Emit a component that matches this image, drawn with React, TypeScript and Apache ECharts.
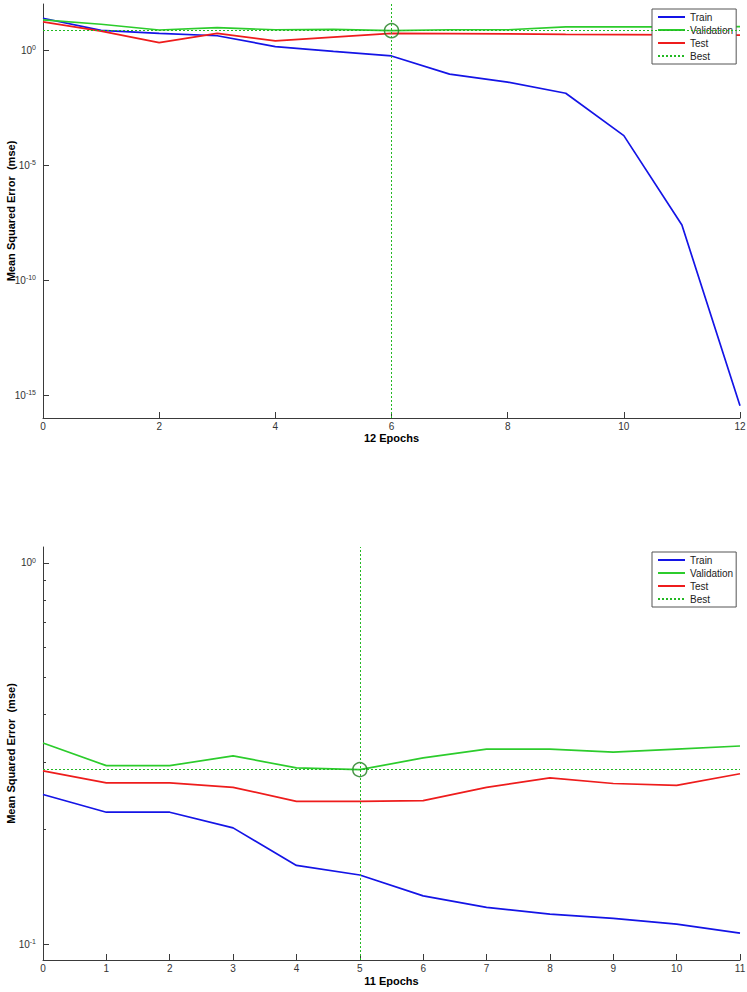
import { useEffect, useRef } from 'react';
import * as echarts from 'echarts';

// ---------- Top chart (12 epochs) ----------
const topEpochs = [0, 1, 2, 3, 4, 5, 6, 7, 8, 9, 10, 11, 12];
const topTrain = [24.0, 7.08, 5.25, 4.17, 1.41, 0.87, 0.55, 0.089, 0.04, 0.0132, 1.9e-4, 2.45e-8, 3.4e-16];
const topValidation = [20.4, 13.2, 7.41, 9.33, 7.59, 7.94, 6.92, 7.59, 7.59, 10.2, 10.2, 10.2, 10.3];
const topTest = [16.6, 6.6, 2.09, 5.25, 2.51, 3.63, 5.25, 5.13, 5.01, 4.79, 4.68, 4.57, 4.47];
const topBestEpoch = 6;
const topYRange = [1e-16, 1e2];
const topYLabelValues = [1e-15, 1e-10, 1e-5, 1];
const topXStep = 2;
const topXName = '12 Epochs';

// ---------- Bottom chart (11 epochs) ----------
const bottomEpochs = [0, 1, 2, 3, 4, 5, 6, 7, 8, 9, 10, 11];
const bottomTrain = [0.247, 0.222, 0.222, 0.202, 0.161, 0.152, 0.134, 0.125, 0.12, 0.117, 0.113, 0.107];
const bottomValidation = [0.337, 0.294, 0.294, 0.312, 0.29, 0.287, 0.308, 0.325, 0.325, 0.319, 0.325, 0.331];
const bottomTest = [0.285, 0.265, 0.265, 0.258, 0.237, 0.237, 0.238, 0.258, 0.273, 0.264, 0.261, 0.28];
const bottomBestEpoch = 5;
const bottomYRange = [0.091, 1.1];
const bottomYLabelValues = [0.1, 1];
const bottomYMinorValues = [0.2, 0.3, 0.4, 0.5, 0.6, 0.7, 0.8, 0.9];
const bottomXStep = 1;
const bottomXName = '11 Epochs';

const yName = 'Mean Squared Error  (mse)';
const legendNames = ['Train', 'Validation', 'Test', 'Best'];

const FONT = '"Liberation Sans", Arial, Helvetica, sans-serif';
const C_TRAIN = '#1414e6';
const C_VAL = '#2ccc2c';
const C_TEST = '#ee1c1c';
const C_BEST = '#22b822';
const C_CIRCLE = '#1d7d1d';
const AXIS = '#3a3a3a';

const lg = (v: number) => Math.log10(v);

function pairs(epochs: number[], vals: number[]) {
  return vals.map((v, i) => [epochs[i], lg(v)]);
}

function expLabel(v: number) {
  const e = Math.round(v);
  return `{b|10}{s|${e}}`;
}

function buildPanel(
  idx: number,
  epochs: number[],
  train: number[],
  val: number[],
  test: number[],
  bestEpoch: number,
) {
  const best = val[bestEpoch];
  const lineCommon = {
    type: 'line',
    xAxisIndex: idx,
    yAxisIndex: idx * 2,
    showSymbol: false,
    symbol: 'none',
    silent: true,
    z: 3,
  };
  const dotted = { color: C_BEST, width: 1, type: [2, 2] };
  return [
    { ...lineCommon, name: 'Train', data: pairs(epochs, train), lineStyle: { color: C_TRAIN, width: 1.7 }, itemStyle: { color: C_TRAIN } },
    { ...lineCommon, name: 'Validation', data: pairs(epochs, val), lineStyle: { color: C_VAL, width: 1.7 }, itemStyle: { color: C_VAL } },
    { ...lineCommon, name: 'Test', data: pairs(epochs, test), lineStyle: { color: C_TEST, width: 1.7 }, itemStyle: { color: C_TEST } },
    {
      ...lineCommon,
      name: 'Best',
      data: [],
      z: 2,
      lineStyle: dotted,
      itemStyle: { color: C_BEST },
      markLine: {
        silent: true,
        symbol: ['none', 'none'],
        label: { show: false },
        animation: false,
        lineStyle: dotted,
        data: [
          { xAxis: bestEpoch, lineStyle: dotted },
          { yAxis: lg(best), lineStyle: dotted },
        ],
      },
    },
    {
      type: 'scatter',
      name: 'bestPoint',
      xAxisIndex: idx,
      yAxisIndex: idx * 2,
      silent: true,
      z: 4,
      symbol: 'circle',
      symbolSize: 14,
      itemStyle: { color: 'rgba(0,0,0,0)', borderColor: C_CIRCLE, borderWidth: 1.5 },
      data: [[bestEpoch, lg(best)]],
    },
  ];
}

function xAxisFor(idx: number, max: number, step: number, name: string, nameGap: number) {
  return {
    type: 'value',
    gridIndex: idx,
    min: 0,
    max,
    interval: step,
    name,
    nameLocation: 'middle',
    nameGap,
    nameMoveOverlap: false,
    nameTextStyle: { fontFamily: FONT, fontSize: 11, fontWeight: 'bold', color: '#000' },
    axisLine: { show: true, onZero: false, lineStyle: { color: AXIS, width: 1 } },
    axisTick: { show: true, inside: true, length: 6, lineStyle: { color: AXIS } },
    axisLabel: { fontFamily: FONT, fontSize: 10, color: '#333', margin: 3 },
    splitLine: { show: false },
  };
}

const richLabel = {
  b: { fontFamily: FONT, fontSize: 10, color: '#333', lineHeight: 12 },
  s: { fontFamily: FONT, fontSize: 7, color: '#333', verticalAlign: 'top', lineHeight: 8 },
};

function yAxisFor(idx: number, range: number[], labelVals: number[]) {
  return {
    type: 'value',
    gridIndex: idx,
    min: lg(range[0]),
    max: lg(range[1]),
    name: yName,
    nameLocation: 'middle',
    nameGap: 27,
    nameMoveOverlap: false,
    nameTextStyle: { fontFamily: FONT, fontSize: 11, fontWeight: 'bold', color: '#000' },
    axisLine: { show: true, onZero: false, lineStyle: { color: AXIS, width: 1 } },
    axisTick: { show: true, inside: true, length: 6, lineStyle: { color: AXIS }, customValues: labelVals.map(lg) },
    axisLabel: {
      fontFamily: FONT,
      fontSize: 10,
      color: '#333',
      margin: 7,
      customValues: labelVals.map(lg),
      formatter: (v: number) => expLabel(v),
      rich: richLabel,
    },
    splitLine: { show: false },
  };
}

function minorYAxisFor(idx: number, range: number[], minorVals: number[]) {
  return {
    type: 'value',
    gridIndex: idx,
    position: 'left',
    min: lg(range[0]),
    max: lg(range[1]),
    axisLine: { show: false, onZero: false },
    axisTick: { show: minorVals.length > 0, inside: true, length: 3, lineStyle: { color: AXIS }, customValues: minorVals.map(lg) },
    axisLabel: { show: false, customValues: minorVals.map(lg) },
    splitLine: { show: false },
  };
}

function legendAt(left: number, top: number) {
  return {
    data: legendNames,
    orient: 'vertical',
    left,
    top,
    padding: [3, 3, 3, 5],
    itemWidth: 27,
    itemHeight: 10,
    itemGap: 3,
    backgroundColor: '#fff',
    borderColor: '#555',
    borderWidth: 1,
    borderRadius: 0,
    selectedMode: false,
    itemStyle: { opacity: 0, borderWidth: 0 },
    textStyle: { fontFamily: FONT, fontSize: 10, color: '#222' },
  };
}

export default function App() {
  const ref = useRef<HTMLDivElement>(null);
  useEffect(() => {
    if (!ref.current) return;
    const chart = echarts.init(ref.current, undefined, { renderer: 'svg' });
    const option: any = {
      animation: false,
      backgroundColor: '#fff',
      textStyle: { fontFamily: FONT },
      grid: [
        { left: 43, right: 7, top: 4, height: 414, outerBoundsMode: 'none' },
        { left: 43, right: 7, top: 547, height: 413, outerBoundsMode: 'none' },
      ],
      legend: [legendAt(652, 9), legendAt(652, 552)],
      xAxis: [
        xAxisFor(0, topEpochs[topEpochs.length - 1], topXStep, topXName, 14),
        xAxisFor(1, bottomEpochs[bottomEpochs.length - 1], bottomXStep, bottomXName, 15),
      ],
      yAxis: [
        yAxisFor(0, topYRange, topYLabelValues),
        minorYAxisFor(0, topYRange, []),
        yAxisFor(1, bottomYRange, bottomYLabelValues),
        minorYAxisFor(1, bottomYRange, bottomYMinorValues),
      ],
      series: [
        ...buildPanel(0, topEpochs, topTrain, topValidation, topTest, topBestEpoch),
        ...buildPanel(1, bottomEpochs, bottomTrain, bottomValidation, bottomTest, bottomBestEpoch),
      ],
    };
    chart.setOption(option);
    return () => chart.dispose();
  }, []);
  return <div ref={ref} style={{ position: 'absolute', left: 0, top: 0, width: 747, height: 992 }} />;
}
